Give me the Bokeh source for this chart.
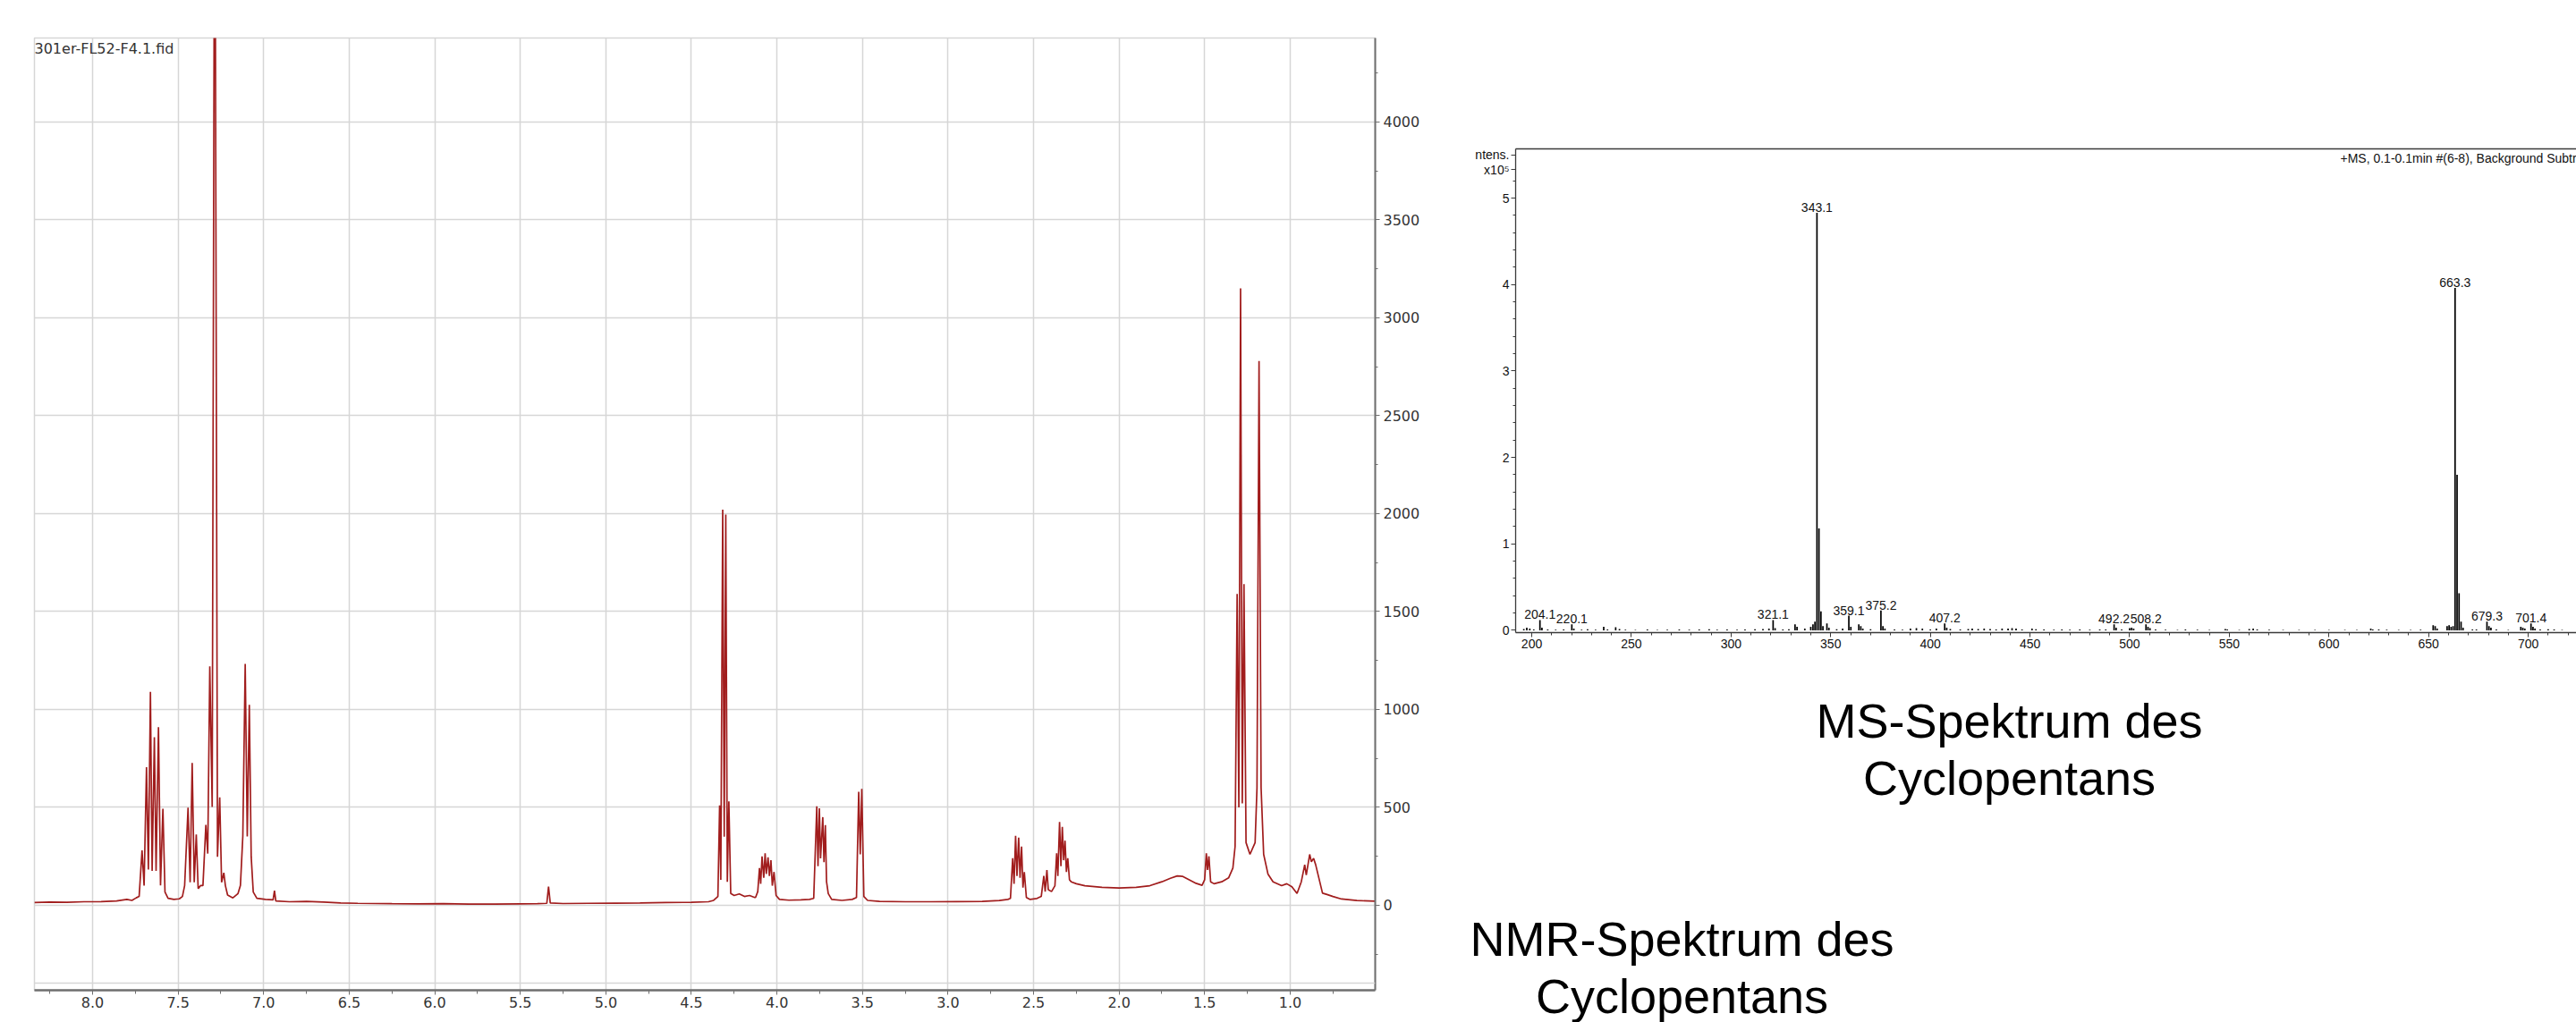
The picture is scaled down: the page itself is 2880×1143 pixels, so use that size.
from bokeh.plotting import figure
from bokeh.models import (Range1d, SingleIntervalTicker, LinearAxis, FixedTicker, Label, Span,
                          ColumnDataSource, PrintfTickFormatter)
from bokeh.layouts import row, column
from bokeh.embed import file_html
from bokeh.resources import INLINE
from bokeh.core.properties import value

# ---------------- NMR spectrum (ppm, intensity) ----------------
nmr_ppm = [8.34, 8.25, 8.15, 8.05, 7.95, 7.86, 7.80, 7.77, 7.745, 7.728, 7.711, 7.699, 7.685, 7.674,
           7.662, 7.652, 7.639, 7.629, 7.615, 7.603, 7.589, 7.577, 7.559, 7.525, 7.493, 7.475, 7.462,
           7.442, 7.430, 7.418, 7.406, 7.394, 7.383, 7.368, 7.355, 7.338, 7.327, 7.315, 7.301, 7.289,
           7.283, 7.270, 7.257, 7.246, 7.233, 7.224, 7.211, 7.180, 7.150, 7.136, 7.122, 7.108, 7.096,
           7.084, 7.073, 7.061, 7.040, 6.990, 6.945, 6.937, 6.929, 6.85, 6.75, 6.65, 6.55, 6.45, 6.35,
           6.25, 6.10, 5.95, 5.80, 5.65, 5.50, 5.40, 5.345, 5.335, 5.325, 5.25, 5.10, 4.95, 4.80, 4.65,
           4.50, 4.40, 4.37, 4.345, 4.335, 4.328, 4.317, 4.308, 4.299, 4.290, 4.281, 4.270, 4.25, 4.22,
           4.19, 4.16, 4.13, 4.125, 4.112, 4.102, 4.095, 4.087, 4.077, 4.069, 4.062, 4.052, 4.044,
           4.035, 4.027, 4.017, 4.005, 3.985, 3.93, 3.86, 3.81, 3.785, 3.767, 3.760, 3.752, 3.745,
           3.732, 3.725, 3.717, 3.710, 3.700, 3.68, 3.62, 3.56, 3.535, 3.522, 3.513, 3.504, 3.492,
           3.47, 3.40, 3.25, 3.10, 2.95, 2.80, 2.70, 2.65, 2.635, 2.622, 2.614, 2.605, 2.597, 2.587,
           2.579, 2.570, 2.562, 2.554, 2.542, 2.52, 2.48, 2.455, 2.440, 2.432, 2.422, 2.414, 2.395,
           2.375, 2.365, 2.358, 2.348, 2.340, 2.332, 2.324, 2.316, 2.308, 2.300, 2.290, 2.280, 2.25,
           2.20, 2.10, 2.00, 1.90, 1.82, 1.75, 1.70, 1.66, 1.63, 1.59, 1.55, 1.515, 1.500, 1.490,
           1.483, 1.475, 1.465, 1.445, 1.40, 1.36, 1.335, 1.322, 1.310, 1.300, 1.290, 1.280, 1.270,
           1.258, 1.235, 1.205, 1.194, 1.182, 1.170, 1.155, 1.13, 1.10, 1.05, 1.02, 0.99, 0.96, 0.935,
           0.915, 0.906, 0.886, 0.876, 0.863, 0.851, 0.811, 0.785, 0.75, 0.70, 0.61, 0.503]
nmr_intensity = [14, 16, 15, 18, 19, 22, 30, 25, 38, 45, 280, 100, 705, 183,
                 1090, 176, 858, 176, 910, 101, 493, 68, 36, 30, 33, 45, 101,
                 499, 117, 727, 117, 362, 85, 101, 101, 411, 264, 1220, 502, 4800,
                 4800, 248, 551, 117, 166, 101, 52, 38, 60, 101, 352, 1233, 352,
                 1024, 248, 68, 36, 30, 28, 75, 22, 18, 20, 16, 12, 10, 9,
                 8, 7, 8, 6, 6, 7, 8, 10, 95, 12, 9, 10, 11, 12, 14,
                 15, 18, 25, 45, 510, 130, 2020, 350, 1995, 120, 530, 60, 50, 58,
                 45, 50, 40, 40, 70, 190, 110, 250, 140, 265, 160, 245, 150,
                 230, 100, 170, 50, 30, 26, 28, 30, 35, 505, 200, 495, 240,
                 450, 220, 410, 120, 60, 30, 25, 30, 40, 580, 260, 595, 45,
                 25, 20, 18, 18, 19, 20, 24, 30, 35, 240, 110, 355, 150, 345,
                 140, 300, 90, 170, 40, 30, 35, 45, 150, 70, 180, 80, 70,
                 100, 265, 150, 425, 200, 400, 230, 330, 170, 240, 130, 120, 110,
                 100, 92, 88, 92, 100, 120, 138, 150, 148, 130, 112, 102, 130, 265,
                 180, 250, 120, 110, 120, 140, 190, 300, 1590, 500, 3150, 520, 1640,
                 320, 260, 320, 600, 2780, 600, 260, 160, 120, 100, 110, 95, 60, 120,
                 207, 154, 260, 222, 240, 207, 62, 55, 45, 32, 24, 21]
nmr_file_name = "301er-FL52-F4.1.fid"

# ---------------- MS spectrum (m/z, intensity x10^5) ----------------
ms_mz = [196, 197.5, 199, 201, 204.1, 205.1, 208, 212, 216, 220.1, 221.1, 225, 228, 232, 236.1, 238,
         242.1, 244, 247, 252, 258, 263, 268, 274, 279, 284, 289, 293, 298, 303, 307, 312, 316, 319,
         321.1, 322.1, 326, 329, 332.1, 333.1, 337, 340, 341.1, 342.1, 343.1, 344.1, 345.1, 346.1,
         348.1, 349.1, 353, 356, 359.1, 360.1, 364.1, 365.1, 366.1, 370, 375.2, 376.2, 377.2, 382,
         386, 390, 393, 396, 400, 403, 407.2, 408.2, 410, 415, 419, 421, 424, 427, 430, 433, 436,
         439, 441, 443, 446, 451, 453, 457, 462, 466, 470, 475, 480, 485, 488, 492.2, 493.2, 496,
         500, 501, 502, 508.2, 509.2, 510.2, 513, 518, 524, 528, 534, 540, 548, 549, 555, 560, 562,
         564, 570, 577, 585, 593, 600, 608, 614, 621, 622, 625, 629, 635, 641, 646, 652.3, 653.3,
         654.3, 659.3, 660.3, 661.3, 662.3, 663.3, 664.3, 665.3, 666.3, 667.3, 672, 674, 679.3,
         680.3, 681.3, 684, 690, 696.3, 697.3, 698.3, 701.4, 702.4, 703.4, 706, 710, 713, 717]
ms_intensity = [0.015, 0.03, 0.02, 0.01, 0.12, 0.03, 0.01, 0.008, 0.01, 0.07, 0.02, 0.008, 0.012,
                0.008, 0.04, 0.01, 0.035, 0.015, 0.008, 0.006, 0.01, 0.006, 0.008, 0.01, 0.008,
                0.01, 0.012, 0.008, 0.01, 0.008, 0.01, 0.012, 0.015, 0.02, 0.12, 0.025, 0.01,
                0.012, 0.07, 0.04, 0.02, 0.04, 0.07, 0.1, 4.83, 1.18, 0.22, 0.05, 0.08, 0.03,
                0.012, 0.02, 0.17, 0.04, 0.07, 0.05, 0.02, 0.012, 0.23, 0.05, 0.02, 0.01, 0.008,
                0.02, 0.025, 0.02, 0.01, 0.02, 0.08, 0.03, 0.015, 0.01, 0.015, 0.02, 0.015, 0.02,
                0.015, 0.01, 0.02, 0.02, 0.025, 0.02, 0.01, 0.02, 0.012, 0.01, 0.008, 0.01, 0.008,
                0.01, 0.008, 0.01, 0.01, 0.07, 0.03, 0.01, 0.025, 0.03, 0.02, 0.07, 0.04, 0.025,
                0.01, 0.008, 0.006, 0.01, 0.008, 0.006, 0.015, 0.01, 0.006, 0.015, 0.02, 0.01,
                0.008, 0.006, 0.005, 0.006, 0.005, 0.006, 0.005, 0.02, 0.01, 0.01, 0.008, 0.005,
                0.006, 0.008, 0.06, 0.05, 0.02, 0.05, 0.06, 0.04, 0.05, 3.96, 1.8, 0.43, 0.1, 0.03,
                0.01, 0.01, 0.1, 0.05, 0.03, 0.01, 0.006, 0.04, 0.03, 0.02, 0.08, 0.04, 0.02, 0.01,
                0.012, 0.01, 0.006]
ms_label_mz = [204.1, 220.1, 321.1, 343.1, 359.1, 375.2, 407.2, 492.2, 508.2, 663.3, 679.3, 701.4]
ms_label_text = ["204.1", "220.1", "321.1", "343.1", "359.1", "375.2", "407.2", "492.2", "508.2",
                 "663.3", "679.3", "701.4"]
ms_y_ticks = [0, 1, 2, 3, 4, 5]
ms_header = "+MS, 0.1-0.1min #(6-8), Background Subtracted"
ms_axis_title = ["ntens.", "x10\u2075"]
ms_caption = ["MS-Spektrum des", "Cyclopentans"]
nmr_caption = ["NMR-Spektrum des", "Cyclopentans"]

# ---------------- NMR figure ----------------
NMR_X0, NMR_X1 = 8.34, 0.503
NMR_Y0, NMR_Y1 = -434, 4429
nmr_font = "DejaVu Sans"
grid_col = "#d6d6d6"

p = figure(width=1640, height=1143, x_range=Range1d(NMR_X0, NMR_X1), y_range=Range1d(NMR_Y0, NMR_Y1),
           y_axis_location="right", output_backend="svg", toolbar_location=None,
           min_border_left=38, min_border_right=103, min_border_top=42, min_border_bottom=36)
p.frame_align = False
p.background_fill_color = "white"
p.border_fill_color = "white"
p.outline_line_color = grid_col
p.outline_line_width = 1.5

xt = SingleIntervalTicker(interval=0.5, num_minor_ticks=2)
yt = SingleIntervalTicker(interval=500, num_minor_ticks=2)
p.xaxis.ticker = xt
p.xgrid.ticker = xt
p.yaxis.ticker = yt
p.ygrid.ticker = yt
p.xaxis.formatter = PrintfTickFormatter(format="%.1f")
for g in (p.xgrid, p.ygrid):
    g.grid_line_color = grid_col
    g.grid_line_width = 1.5

for ax in (p.xaxis, p.yaxis):
    ax.axis_line_color = "#6f6f6f"
    ax.major_tick_line_color = "#6f6f6f"
    ax.minor_tick_line_color = "#6f6f6f"
    ax.major_tick_in = 0
    ax.minor_tick_in = 0
    ax.major_label_text_font = nmr_font
    ax.major_label_text_font_size = "16px"
    ax.major_label_text_color = "#333333"
p.xaxis.axis_line_width = 2.5
p.xaxis.major_tick_out = 5
p.xaxis.minor_tick_out = 4
p.xaxis.major_label_standoff = 2
p.yaxis.axis_line_width = 2
p.yaxis.major_tick_out = 5
p.yaxis.minor_tick_out = 3
p.yaxis.major_label_standoff = 4

# lower inner edge of the original NMR widget
p.add_layout(Span(location=-397, dimension="width", line_color=grid_col, line_width=1.5))

p.line(nmr_ppm, nmr_intensity, line_color="#a11d1d", line_width=1.7)

p.add_layout(Label(x=NMR_X0, y=NMR_Y1 - 11, text=nmr_file_name, text_font=nmr_font,
                   text_font_size="16px", text_color="#333333", text_align="left",
                   text_baseline="top"))

# ---------------- MS figure ----------------
MS_X0, MS_X1 = 191.9, 724.2
MS_Y0, MS_Y1 = -0.026, 5.569
ms_font = "Liberation Sans"
ink = "#3a3a3a"

q = figure(width=1240, height=735, x_range=Range1d(MS_X0, MS_X1), y_range=Range1d(MS_Y0, MS_Y1),
           output_backend="svg", toolbar_location=None,
           min_border_left=54, min_border_right=0, min_border_top=166, min_border_bottom=28)
q.frame_align = False
q.background_fill_color = "white"
q.border_fill_color = "white"
q.outline_line_color = None
q.grid.visible = False

q.xaxis.ticker = SingleIntervalTicker(interval=50, num_minor_ticks=5)
title_pos = [5.5, 5.33]
minor_pos = [i / 5 for i in range(28) if i % 5 != 0 and i != 27]
q.yaxis.ticker = FixedTicker(ticks=ms_y_ticks + title_pos, minor_ticks=minor_pos)
q.yaxis.major_label_overrides = {title_pos[0]: ms_axis_title[0], title_pos[1]: ms_axis_title[1]}
for ax in (q.xaxis, q.yaxis):
    ax.axis_line_color = ink
    ax.axis_line_width = 1.3
    ax.major_tick_line_color = ink
    ax.minor_tick_line_color = ink
    ax.major_tick_in = 0
    ax.minor_tick_in = 0
    ax.major_tick_out = 5
    ax.minor_tick_out = 3
    ax.major_label_standoff = 2
    ax.major_label_text_font = ms_font
    ax.major_label_text_font_size = "14px"
    ax.major_label_text_color = "#111111"

top_axis = LinearAxis(ticker=FixedTicker(ticks=[]), axis_line_color=ink, axis_line_width=1.3,
                      major_label_text_font_size="0px", major_tick_line_color=None,
                      minor_tick_line_color=None)
q.add_layout(top_axis, "above")

ms_src = ColumnDataSource(dict(mz=ms_mz, base=[0] * len(ms_mz), inten=ms_intensity))
q.segment(x0="mz", y0="base", x1="mz", y1="inten", source=ms_src, line_color="black", line_width=1.7)

lookup = dict(zip(ms_mz, ms_intensity))
lab_src = ColumnDataSource(dict(mz=ms_label_mz, y=[lookup[m] for m in ms_label_mz], t=ms_label_text))
q.text(x="mz", y="y", text="t", source=lab_src, text_font=value(ms_font), text_font_size="14px",
       text_align="center", text_baseline="bottom", y_offset=-1, text_color="#111111")

q.add_layout(Label(x=605.7, y=5.465, text=ms_header, text_font=ms_font, text_font_size="14px",
                   text_align="left", text_baseline="middle", text_color="#111111"))

# ---------------- caption panel (below the MS chart) ----------------
c = figure(width=1240, height=408, x_range=Range1d(0, 1240), y_range=Range1d(408, 0),
           output_backend="svg", toolbar_location=None, x_axis_location=None, y_axis_location=None,
           min_border=0)
c.frame_align = False
c.outline_line_color = None
c.grid.visible = False
c.background_fill_color = "white"
c.border_fill_color = "white"
cap_src = ColumnDataSource(dict(
    x=[606, 606, 240, 240],
    y=[70, 134, 314, 378],
    t=ms_caption + nmr_caption))
c.text(x="x", y="y", text="t", source=cap_src, text_font=value(ms_font), text_font_size="54px",
       text_align="center", text_baseline="middle", text_color="black")

layout = row(p, column(q, c))
open("out.html", "w").write(file_html(layout, INLINE))
